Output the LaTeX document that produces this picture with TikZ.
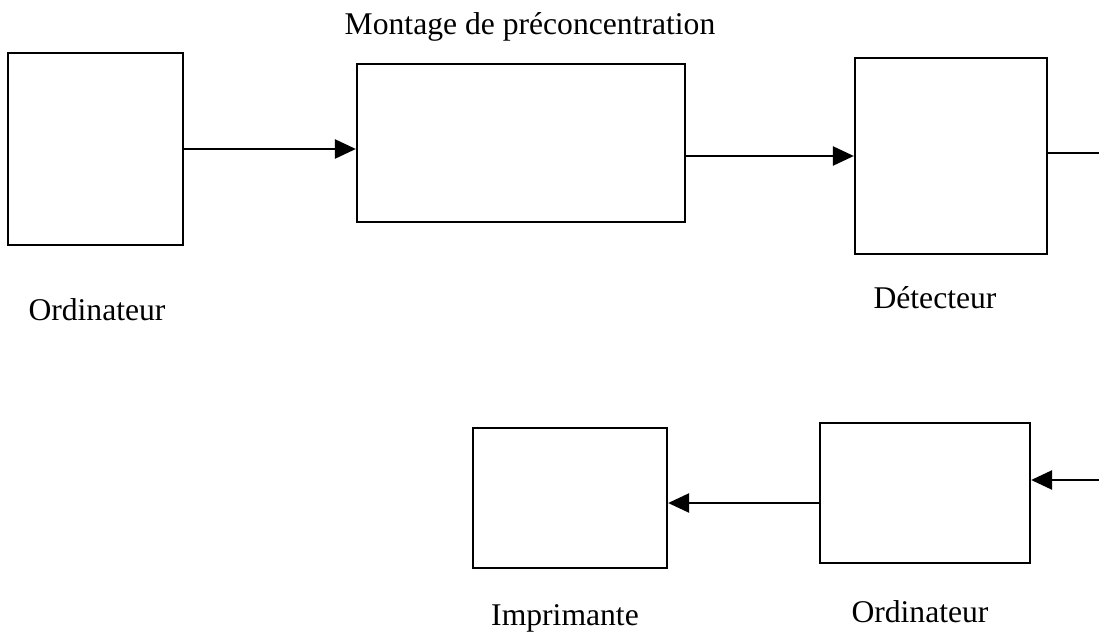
\documentclass[tikz,border=0pt]{standalone}
\usepackage{fontspec}
\setmainfont{Liberation Serif}
\usetikzlibrary{arrows.meta}

\begin{document}
\begin{tikzpicture}[x=0.02cm,y=-0.02cm,
  bloc/.style={draw,line width=1.3pt,rectangle,inner sep=0pt},
  fleche/.style={line width=1.4pt,-{Triangle[length=0.42cm,width=0.38cm]}},
  lien/.style={line width=1.4pt},
  etiq/.style={font=\fontsize{18}{22}\selectfont}]
\useasboundingbox (0,0) rectangle (1099,635);

% chaine du haut
\node[bloc,minimum width=3.5cm,minimum height=3.84cm] (ord1) at (95.5,149) {};
\node[bloc,minimum width=6.56cm,minimum height=3.16cm] (precon) at (521,143) {};
\node[bloc,minimum width=3.84cm,minimum height=3.92cm] (det) at (951,156) {};
\node[etiq] (tprecon) at (530,27) {Montage de préconcentration};
\node[etiq] (tord1) at (97,310) {Ordinateur};
\node[etiq] (tdet) at (935,298) {Détecteur};
\coordinate (sortie) at (1099,153);

% chaine du bas
\node[bloc,minimum width=3.88cm,minimum height=2.8cm] (imp) at (570,498) {};
\node[bloc,minimum width=4.2cm,minimum height=2.8cm] (ord2) at (925,493) {};
\node[etiq] (timp) at (565,618) {Imprimante};
\node[etiq] (tord2) at (920,612) {Ordinateur};
\coordinate (entree) at (1099,480);
\coordinate (retour) at (820,503);

\draw[fleche] (ord1.east) -- (ord1.east -| precon.west);
\draw[fleche] (det.west -| precon.east) -- (det.west);
\draw[lien] (det.east |- sortie) -- (sortie);
\draw[fleche] (entree) -- (entree -| ord2.east);
\draw[fleche] (retour) -- (retour -| imp.east);
\end{tikzpicture}
\end{document}
